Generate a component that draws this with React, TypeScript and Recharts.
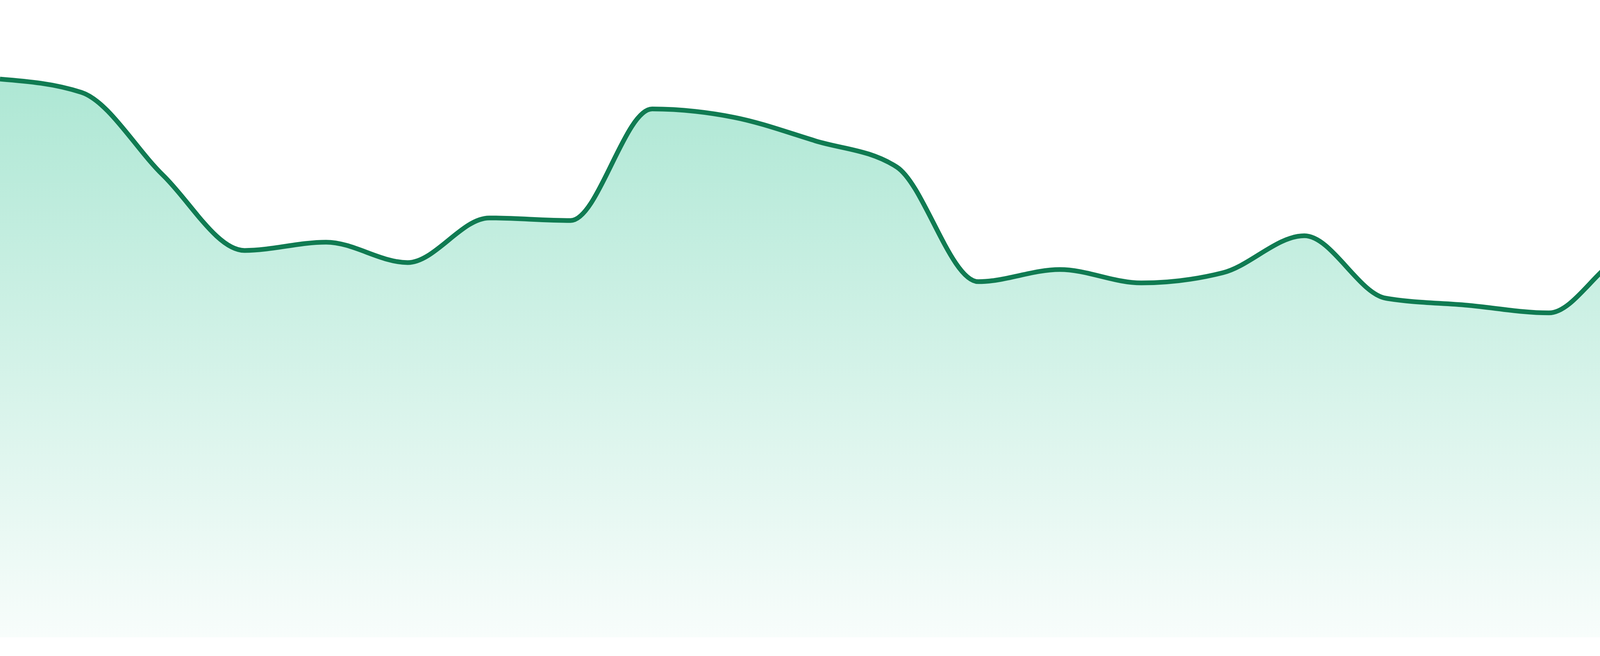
import React from "react";
import { AreaChart, Area, XAxis, YAxis } from "recharts";

const categories: string[] = [
  "1", "2", "3", "4", "5", "6", "7", "8", "9", "10", "11", "12",
  "13", "14", "15", "16", "17", "18", "19", "20", "21", "22", "23", "24",
];

const values: number[] = [
  87.6, 85.5, 72.5, 60.7, 62.0, 58.8, 65.8, 65.4, 82.9, 81.6, 77.9, 73.8,
  55.8, 57.7, 55.6, 57.2, 63.0, 53.2, 52.1, 50.9, 60.0, 52.6, 29.4, 29.0,
];

const yDomain: [number, number] = [0, 100];

const data = categories.map((c, i) => ({ name: c, value: values[i] }));

export default function App() {
  return (
    <div style={{ position: "absolute", left: 0, top: 0, width: 4800, height: 1680, background: "#ffffff" }}>
      <AreaChart
        width={4800}
        height={1680}
        data={data}
        margin={{ top: 0, right: 0, left: 0, bottom: 48 }}
      >
        <defs>
          <linearGradient id="areaFill" x1="0" y1="0" x2="0" y2="1">
            <stop offset="0%" stopColor="#10b981" stopOpacity={0.34} />
            <stop offset="100%" stopColor="#10b981" stopOpacity={0.03} />
          </linearGradient>
        </defs>
        <XAxis dataKey="name" hide />
        <YAxis hide domain={yDomain} />
        <Area
          type="monotone"
          dataKey="value"
          stroke="#107b52"
          strokeWidth={12}
          fill="url(#areaFill)"
          fillOpacity={1}
          dot={false}
          activeDot={false}
          isAnimationActive={false}
        />
      </AreaChart>
    </div>
  );
}
